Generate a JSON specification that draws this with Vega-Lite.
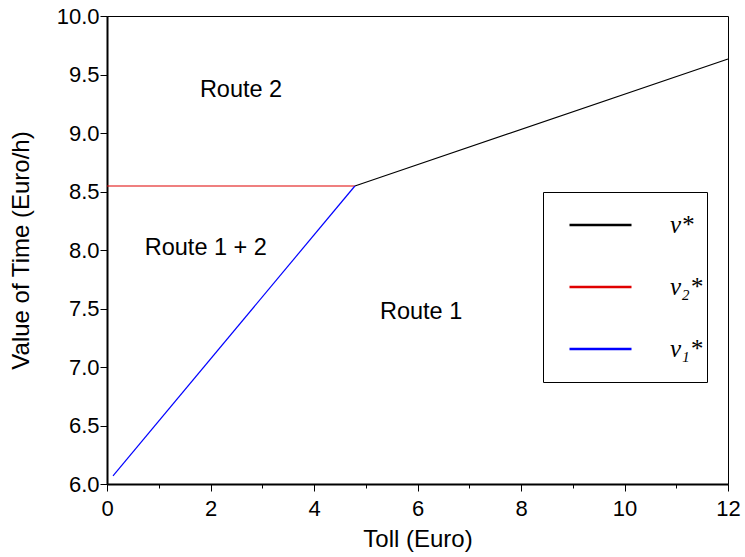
{
  "$schema": "https://vega.github.io/schema/vega-lite/v6.json",
  "width": 621,
  "height": 468,
  "autosize": {"type": "none"},
  "padding": {"left": 107, "top": 16, "right": 17, "bottom": 73},
  "background": "white",
  "config": {
    "view": {"stroke": "black", "strokeWidth": 1},
    "font": "Liberation Sans",
    "axis": {
      "grid": false,
      "domainColor": "black",
      "domainWidth": 2,
      "tickColor": "black",
      "tickWidth": 1,
      "labelColor": "black",
      "titleColor": "black",
      "labelFont": "Liberation Sans",
      "titleFont": "Liberation Sans",
      "labelFontSize": 22,
      "titleFontSize": 24,
      "titleFontWeight": "normal",
      "labelOverlap": false,
      "labelFlush": false,
      "labelBound": false
    }
  },
  "datasets": {
    "lines": [
      {"toll": 4.79, "vot": 8.547, "series": "v*"},
      {"toll": 12, "vot": 9.632, "series": "v*"},
      {"toll": 0, "vot": 8.547, "series": "v2*"},
      {"toll": 4.79, "vot": 8.547, "series": "v2*"},
      {"toll": 0.116, "vot": 6.07, "series": "v1*"},
      {"toll": 4.79, "vot": 8.547, "series": "v1*"}
    ],
    "labels": [
      {"toll": 2.59, "vot": 9.37, "text": "Route 2"},
      {"toll": 1.91, "vot": 8.02, "text": "Route 1 + 2"},
      {"toll": 6.07, "vot": 7.47, "text": "Route 1"}
    ]
  },
  "layer": [
    {
      "data": {"name": "lines"},
      "mark": {"type": "line", "strokeWidth": 1.2},
      "encoding": {
        "x": {
          "field": "toll", "type": "quantitative",
          "scale": {"domain": [0, 12], "nice": false, "zero": false},
          "axis": {
            "title": "Toll (Euro)",
            "values": [0, 0.5, 1, 1.5, 2, 2.5, 3, 3.5, 4, 4.5, 5, 5.5, 6, 6.5, 7, 7.5, 8, 8.5, 9, 9.5, 10, 10.5, 11, 11.5, 12],
            "labelExpr": "datum.value % 2 === 0 ? format(datum.value, 'd') : ''",
            "tickSize": {"condition": {"test": "datum.value % 2 === 0", "value": 7}, "value": 4},
            "labelPadding": 7,
            "titlePadding": 8
          }
        },
        "y": {
          "field": "vot", "type": "quantitative",
          "scale": {"domain": [6, 10], "nice": false, "zero": false},
          "axis": {
            "title": "Value of Time (Euro/h)",
            "values": [6, 6.25, 6.5, 6.75, 7, 7.25, 7.5, 7.75, 8, 8.25, 8.5, 8.75, 9, 9.25, 9.5, 9.75, 10],
            "labelExpr": "datum.value % 0.5 === 0 ? format(datum.value, '.1f') : ''",
            "tickSize": {"condition": {"test": "datum.value % 0.5 === 0", "value": 7}, "value": 4},
            "labelPadding": 1,
            "titlePadding": 23
          }
        },
        "color": {
          "field": "series", "type": "nominal",
          "scale": {"domain": ["v*", "v2*", "v1*"], "range": ["#000000", "#e00000", "#0000ff"]},
          "legend": {
            "title": null,
            "orient": "none",
            "legendX": 436,
            "legendY": 176,
            "padding": 4,
            "fillColor": "white",
            "strokeColor": "black",
            "symbolType": "stroke",
            "symbolSize": 3844,
            "symbolStrokeWidth": 2.5,
            "symbolOffset": 21,
            "clipHeight": 58,
            "rowPadding": 4,
            "labelOffset": 37,
            "labelFont": "Liberation Serif",
            "labelFontStyle": "italic",
            "labelFontSize": 25,
            "labelColor": "black",
            "labelExpr": "datum.value === 'v*' ? 'ν*   ' : datum.value === 'v2*' ? 'ν₂*   ' : 'ν₁*   '"
          }
        }
      }
    },
    {
      "data": {"name": "labels"},
      "mark": {"type": "text", "fontSize": 23.5, "font": "Liberation Sans", "color": "black"},
      "encoding": {
        "x": {"field": "toll", "type": "quantitative"},
        "y": {"field": "vot", "type": "quantitative"},
        "text": {"field": "text"}
      }
    }
  ]
}
